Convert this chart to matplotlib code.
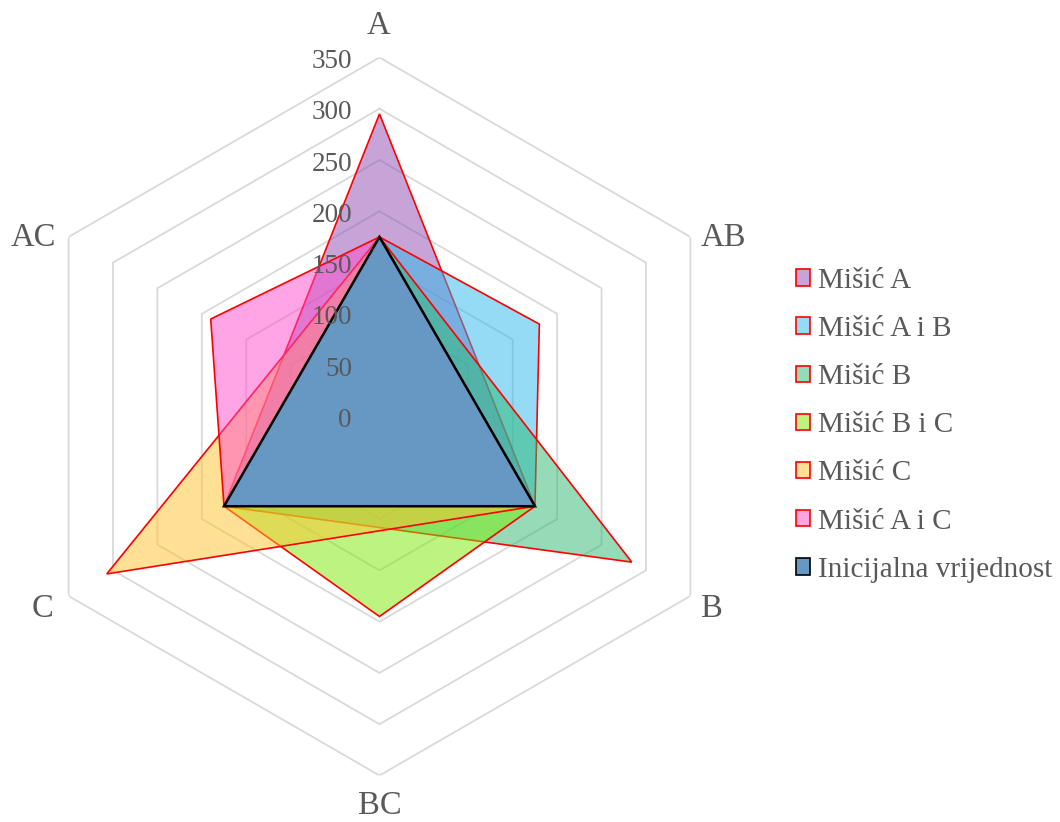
import numpy as np
import matplotlib
matplotlib.use('Agg')
import matplotlib.pyplot as plt
import matplotlib.transforms as mtransforms
from matplotlib.patches import Patch

plt.rcParams['font.family'] = ['Liberation Serif', 'DejaVu Serif']

# data (nan = no value, points are joined over the gap)
categories = ['A', 'AB', 'B', 'BC', 'C', 'AC']
misic_a = [295, np.nan, 175, np.nan, 175, np.nan]
misic_ab = [175, 180, 175, np.nan, 175, np.nan]
misic_b = [175, np.nan, 284, np.nan, 175, np.nan]
misic_bc = [175, np.nan, 175, 195, 175, np.nan]
misic_c = [175, np.nan, 175, np.nan, 307, np.nan]
misic_ac = [175, np.nan, 175, np.nan, 175, 190]
inicijalna = [175, np.nan, 175, np.nan, 175, np.nan]
r_ticks = [0, 50, 100, 150, 200, 250, 300, 350]

series = [
    ('Mišić A', misic_a, '#8e4bb0', 'red'),
    ('Mišić A i B', misic_ab, '#2db9ec', 'red'),
    ('Mišić B', misic_b, '#2db972', 'red'),
    ('Mišić B i C', misic_bc, '#7deb05', 'red'),
    ('Mišić C', misic_c, '#ffc32d', 'red'),
    ('Mišić A i C', misic_ac, '#ff4bcd', 'red'),
]
text_color = '#595959'

fig = plt.figure(figsize=(10.6, 8.22), dpi=100)
ax = fig.add_axes([0.0193, 0.0566, 0.6774, 0.8735], projection='polar')
ax.set_theta_zero_location('N')
ax.set_theta_direction(-1)
ax.set_ylim(0, 350)
ax.grid(False)
ax.spines['polar'].set_visible(False)
ax.set_xticks([])
ax.set_yticks([])
ax.patch.set_alpha(0)

angles = np.arange(len(categories)) * 2 * np.pi / len(categories)

# hexagon grid
for r in r_ticks[1:]:
    th = np.append(angles, angles[0])
    ax.plot(th, [r] * len(th), color='#d9d9d9', lw=1.3, zorder=1)

def polygon(vals):
    vals = np.array(vals, dtype=float)
    ok = ~np.isnan(vals)
    return angles[ok], vals[ok]

handles = []
for i, (name, vals, col, edge) in enumerate(series):
    th, r = polygon(vals)
    ax.fill(th, r, facecolor=col, alpha=0.5, zorder=2 + i)
    ax.fill(th, r, facecolor='none', edgecolor=edge, lw=1.2, zorder=2 + i)
    handles.append(Patch(facecolor=matplotlib.colors.to_rgba(col, 0.5), edgecolor=edge, lw=1.2, label=name))

th, r = polygon(inicijalna)
ax.fill(th, r, facecolor='#6798c4', edgecolor='black', lw=1.8, zorder=10)
handles.append(Patch(facecolor='#6798c4', edgecolor='black', lw=1.2, label='Inicijalna vrijednost'))

# value labels along the A axis
off = mtransforms.offset_copy(ax.transData, fig=fig, x=-27.5, y=-4, units='dots')
for v in r_ticks:
    ax.text(0, v, str(v), transform=off, ha='right', va='center',
            fontsize=19.5, color=text_color, zorder=20)

# category labels, placed just outside the outer hexagon
label_offsets = [(-1, 31.5), (33, -0.5), (22, -12.5), (0, -30.5), (-26, -12.5), (-35, -0.5)]
for a, c, (dx, dy) in zip(angles, categories, label_offsets):
    tr = mtransforms.offset_copy(ax.transData, fig=fig, x=dx, y=dy, units='dots')
    ax.text(a, 350, c, transform=tr, ha='center', va='center',
            fontsize=23.5, color=text_color)

leg = fig.legend(handles=handles, loc='upper left', bbox_to_anchor=(0.7396, 0.6884),
                 frameon=False, fontsize=21, handlelength=0.48, handleheight=0.48,
                 handletextpad=0.27, labelspacing=0.76, borderaxespad=0)
for t in leg.get_texts():
    t.set_color(text_color)

plt.savefig('out.png', dpi=100)
plt.close()
